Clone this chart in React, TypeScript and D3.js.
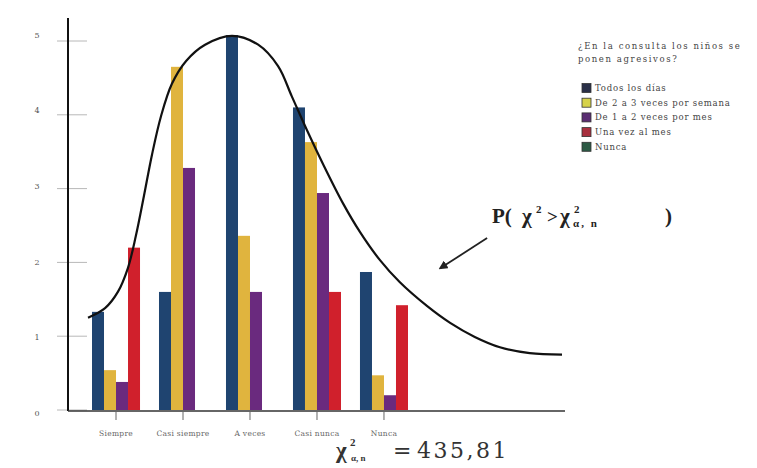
import React from 'react';
import * as d3 from 'd3';

const categories = ['Siempre', 'Casi siempre', 'A veces', 'Casi nunca', 'Nunca'];
const seriesNames = ['Todos los días', 'De 2 a 3 veces por semana', 'De 1 a 2 veces por mes', 'Una vez al mes', 'Nunca'];
const todosLosDias = [1.33, 1.6, 5.08, 4.1, 1.87];
const de2a3Semana = [0.54, 4.65, 2.36, 3.63, 0.47];
const de1a2Mes = [0.38, 3.28, 1.6, 2.94, 0.2];
const unaVezMes = [2.2, 0, 0, 1.6, 1.42];
const nuncaVals = [0, 0, 0, 0, 0];
const seriesValues = [todosLosDias, de2a3Semana, de1a2Mes, unaVezMes, nuncaVals];
const barColors = ['#1f4470', '#e0b43e', '#6a2a7e', '#d0202c', '#2e6b50'];
const swatchColors = ['#2a3048', '#d6d24a', '#5a2d72', '#a8303e', '#2d5a45'];
const yTicks = [0, 1, 2, 3, 4, 5];

// chi-square-like density curve (curve x units, y-axis units)
const curveX = [0, 0.36, 0.63, 0.84, 1.01, 1.18, 1.35, 1.54, 1.77, 2.07, 2.47, 3.04, 3.59, 4.01, 4.3, 4.62, 4.96, 5.38, 5.74, 6.16, 6.58, 7.15, 7.64, 8.16, 8.69, 9.32, 10];
const curveY = [1.25, 1.38, 1.6, 1.92, 2.36, 2.9, 3.46, 3.98, 4.42, 4.73, 4.95, 5.07, 4.95, 4.66, 4.25, 3.79, 3.33, 2.8, 2.41, 2.03, 1.73, 1.41, 1.18, 0.99, 0.85, 0.77, 0.75];
const arrowFrom = [8.42, 2.33];
const arrowTo = [7.43, 1.92];

const W = 757;
const H = 468;

export default function App() {
  const y = d3.scaleLinear().domain([0, 5]).range([410, 41]);
  const yLabel = d3.scaleLinear().domain([0, 5]).range([413, 35]);
  const x0 = d3.scaleBand<string>().domain(categories).range([92, 420]).paddingInner(0.104).paddingOuter(0);
  const x1 = d3.scaleBand<string>().domain(seriesNames).range([0, x0.bandwidth()]);
  const cx = d3.scaleLinear().domain([0, 10]).range([88, 562]);
  const pts: [number, number][] = curveX.map((v, i) => [v, curveY[i]]);
  const line = d3
    .line<[number, number]>()
    .x((d) => cx(d[0]))
    .y((d) => y(d[1]))
    .curve(d3.curveCatmullRom.alpha(0.5));

  const serif = "'Liberation Serif', 'DejaVu Serif', serif";
  const wide = "'DejaVu Serif', serif";
  const base = y(0);

  return (
    <svg width={W} height={H} style={{ position: 'absolute', left: 0, top: 0, background: '#fff' }}>
      <defs>
        <marker id="ah" viewBox="0 0 10 10" refX="8" refY="5" markerWidth="5" markerHeight="5" orient="auto">
          <path d="M0,0 L10,5 L0,10 z" fill="#222" />
        </marker>
      </defs>

      {/* y ticks */}
      {yTicks.map((t) => (
        <g key={t}>
          <line x1={57} x2={87} y1={y(t)} y2={y(t)} stroke="#b8b8b8" strokeWidth={1} />
          <text x={37} y={yLabel(t)} dy="0.35em" textAnchor="middle" fontSize={8} fontFamily={wide} fill="#555">
            {t}
          </text>
        </g>
      ))}

      {/* bars */}
      {categories.map((c, ci) => (
        <g key={c} transform={`translate(${x0(c)},0)`}>
          {seriesNames.map((s, si) => {
            const v = seriesValues[si][ci];
            if (!v) return null;
            return (
              <rect
                key={s}
                x={x1(s)}
                y={y(v)}
                width={x1.bandwidth()}
                height={base - y(v)}
                fill={barColors[si]}
              />
            );
          })}
        </g>
      ))}

      {/* axes */}
      <line x1={68} x2={68} y1={18} y2={base + 1} stroke="#111" strokeWidth={2} />
      <line x1={68} x2={565} y1={base + 1} y2={base + 1} stroke="#333" strokeWidth={1.5} />

      {/* category ticks & labels */}
      {categories.map((c) => {
        const xc = (x0(c) as number) + x1.bandwidth() * 2;
        return (
          <g key={c}>
            <line x1={xc} x2={xc} y1={base + 1} y2={base + 10} stroke="#666" strokeWidth={1} />
            <text x={xc} y={436} textAnchor="middle" fontSize={7.5} letterSpacing={0.3} fontFamily={wide} fill="#666">
              {c}
            </text>
          </g>
        );
      })}

      {/* density curve */}
      <path d={line(pts) || ''} fill="none" stroke="#111" strokeWidth={2.2} />

      {/* annotation arrow */}
      <line
        x1={cx(arrowFrom[0])}
        y1={y(arrowFrom[1])}
        x2={cx(arrowTo[0])}
        y2={y(arrowTo[1])}
        stroke="#222"
        strokeWidth={1.8}
        markerEnd="url(#ah)"
      />

      {/* P( χ² > χ²α,n ) */}
      <g fontFamily={serif} fontWeight="bold" fill="#222">
        <text x={492} y={223} fontSize={21}>P(</text>
        <text x={522} y={223} fontSize={21}>χ</text>
        <text x={536} y={213} fontSize={11}>2</text>
        <text x={547} y={223} fontSize={19}>&gt;</text>
        <text x={560} y={223} fontSize={21}>χ</text>
        <text x={574} y={213} fontSize={11}>2</text>
        <text x={573} y={227} fontSize={11} letterSpacing={2}>α, n</text>
        <text x={665} y={223} fontSize={21}>)</text>
      </g>

      {/* χ²α,n = 435,81 */}
      <g fill="#333">
        <text x={336} y={458} fontSize={23} fontWeight="bold" fontFamily={serif}>χ</text>
        <text x={350} y={446} fontSize={11} fontWeight="bold" fontFamily={serif}>2</text>
        <text x={351} y={461} fontSize={9} fontWeight="bold" fontFamily={serif}>α, n</text>
        <text x={393} y={458} fontSize={22} fontFamily={wide}>=</text>
        <text x={417} y={458} fontSize={22} letterSpacing={2.5} fontFamily={wide}>435,81</text>
      </g>

      {/* legend */}
      <text x={578} y={49} fontSize={8.5} letterSpacing={1.6} fontFamily={wide} fill="#444">
        ¿En la consulta los niños se
      </text>
      <text x={578} y={62} fontSize={8.5} letterSpacing={1.6} fontFamily={wide} fill="#444">
        ponen agresivos?
      </text>
      {seriesNames.map((s, i) => {
        const ry = 88 + i * 14.7;
        return (
          <g key={s}>
            <rect x={582} y={ry - 4.5} width={9} height={9} fill={swatchColors[i]} stroke="#333" strokeWidth={0.8} />
            <text x={595} y={ry} dy="0.35em" fontSize={8.5} letterSpacing={0.8} fontFamily={wide} fill="#444">
              {s}
            </text>
          </g>
        );
      })}
    </svg>
  );
}
